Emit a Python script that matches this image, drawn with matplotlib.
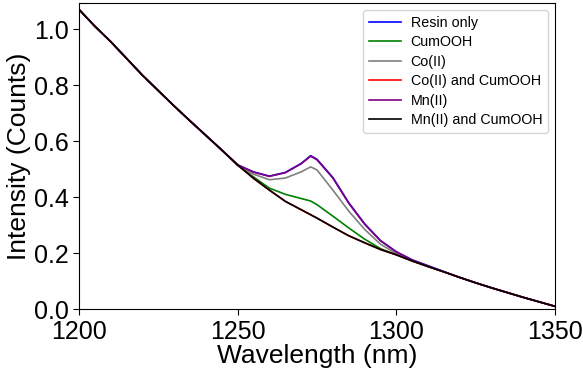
import matplotlib.pyplot as plt

plt.rcParams['font.family'] = ['Liberation Sans', 'DejaVu Sans']

# wavelength grid (nm)
wavelength = [1200, 1205, 1210, 1215, 1220, 1225, 1230, 1235, 1240, 1245,
              1250, 1255, 1260, 1265, 1270, 1273, 1275, 1280, 1285, 1290,
              1295, 1300, 1305, 1310, 1315, 1320, 1325, 1330, 1335, 1340,
              1345, 1350]

# intensities
resin_only = [1.07, 1.01, 0.955, 0.895, 0.835, 0.78, 0.725, 0.672, 0.62, 0.568,
              0.515, 0.49, 0.475, 0.488, 0.52, 0.548, 0.535, 0.47, 0.38, 0.305,
              0.245, 0.205, 0.176, 0.155, 0.134, 0.113, 0.094, 0.076, 0.059, 0.042,
              0.026, 0.01]
cumooh = [1.07, 1.01, 0.955, 0.895, 0.835, 0.78, 0.725, 0.672, 0.62, 0.568,
          0.513, 0.472, 0.432, 0.41, 0.395, 0.386, 0.373, 0.332, 0.29, 0.25,
          0.216, 0.194, 0.172, 0.152, 0.133, 0.113, 0.094, 0.076, 0.059, 0.042,
          0.026, 0.01]
co = [1.07, 1.01, 0.955, 0.895, 0.835, 0.78, 0.725, 0.672, 0.62, 0.568,
      0.512, 0.482, 0.462, 0.468, 0.49, 0.508, 0.497, 0.425, 0.35, 0.285,
      0.232, 0.198, 0.173, 0.152, 0.133, 0.113, 0.094, 0.076, 0.059, 0.042,
      0.026, 0.01]
co_cumooh = [1.07, 1.01, 0.955, 0.895, 0.835, 0.78, 0.725, 0.672, 0.62, 0.568,
             0.515, 0.467, 0.425, 0.385, 0.355, 0.337, 0.325, 0.293, 0.262, 0.237,
             0.213, 0.194, 0.172, 0.152, 0.133, 0.113, 0.094, 0.076, 0.059, 0.042,
             0.026, 0.01]
mn = [1.07, 1.01, 0.955, 0.895, 0.835, 0.78, 0.725, 0.672, 0.62, 0.568,
      0.515, 0.489, 0.474, 0.487, 0.519, 0.546, 0.533, 0.468, 0.378, 0.303,
      0.244, 0.204, 0.175, 0.154, 0.133, 0.113, 0.094, 0.076, 0.059, 0.042,
      0.026, 0.01]
mn_cumooh = [1.07, 1.01, 0.955, 0.895, 0.835, 0.78, 0.725, 0.672, 0.62, 0.568,
             0.515, 0.467, 0.425, 0.385, 0.355, 0.337, 0.325, 0.293, 0.262, 0.237,
             0.213, 0.194, 0.172, 0.152, 0.133, 0.113, 0.094, 0.076, 0.059, 0.042,
             0.026, 0.01]

series = [(resin_only, 'Resin only', 'blue'),
          (cumooh, 'CumOOH', 'green'),
          (co, 'Co(II)', 'grey'),
          (co_cumooh, 'Co(II) and CumOOH', 'red'),
          (mn, 'Mn(II)', 'purple'),
          (mn_cumooh, 'Mn(II) and CumOOH', 'black')]

fig = plt.figure(figsize=(5.83, 3.77), dpi=100)
ax = fig.add_axes([0.1355, 0.18, 0.8165, 0.812])

for values, label, color in series:
    ax.plot(wavelength, values, color=color, lw=1.2, label=label)

ax.set_xlim(1200, 1350)
ax.set_ylim(0, 1.093)
ax.set_xticks([1200, 1250, 1300, 1350])
ax.set_yticks([0.0, 0.2, 0.4, 0.6, 0.8, 1.0])
ax.tick_params(labelsize=18, length=4)
ax.set_xlabel('Wavelength (nm)', fontsize=19, labelpad=0)
ax.set_ylabel('Intensity (Counts)', fontsize=19, labelpad=2)
ax.legend(loc='upper right', fontsize=10.3, handlelength=2.2,
          handletextpad=0.7, labelspacing=0.38)

fig.savefig('out.png', dpi=100)
